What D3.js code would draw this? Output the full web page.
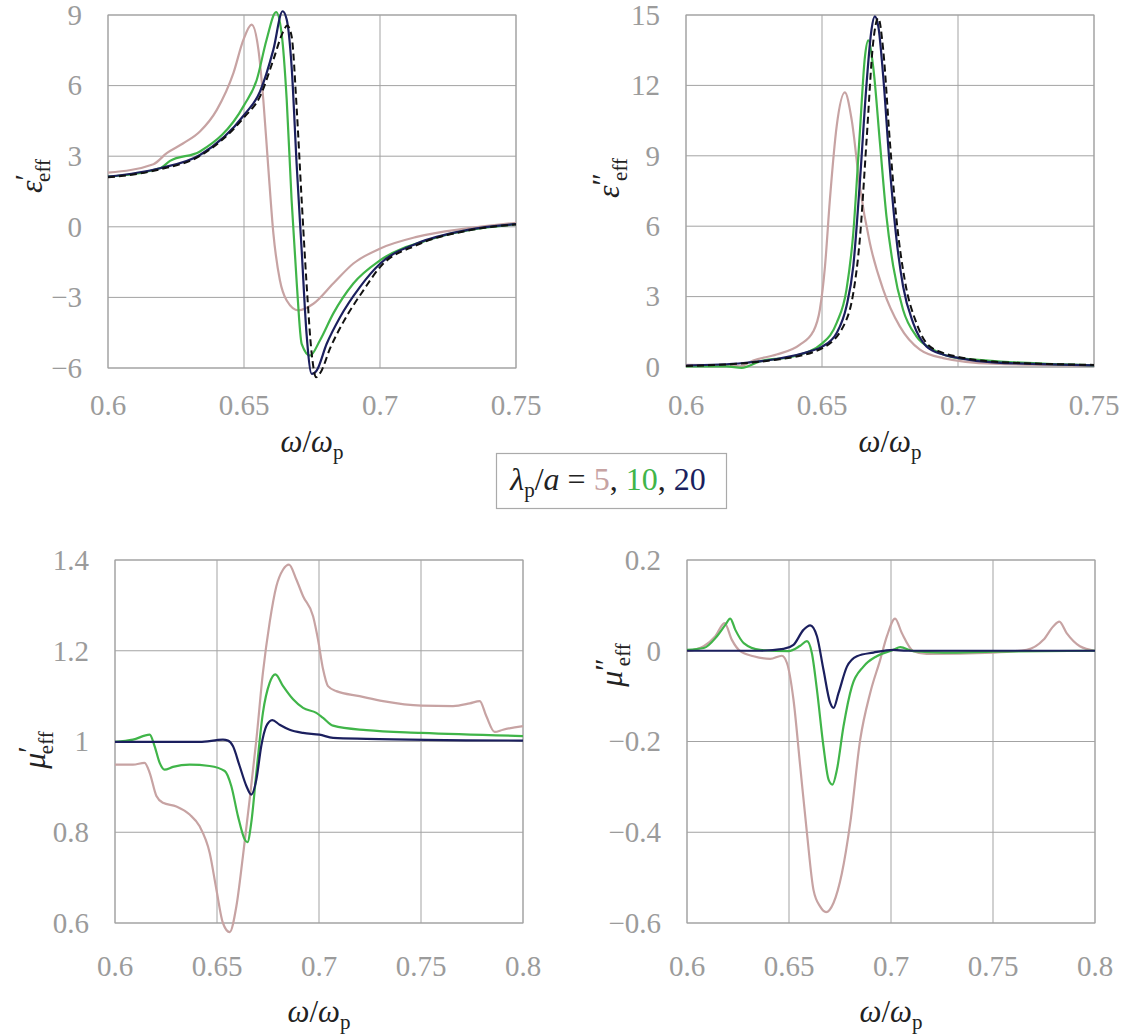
<!DOCTYPE html>
<html>
<head>
<meta charset="utf-8">
<script src="https://cdn.jsdelivr.net/npm/d3@7"></script>
<style>
  html, body { margin: 0; padding: 0; background: #fff; }
  svg { display: block; }
</style>
</head>
<body>
<svg id="chart" width="1131" height="1036"></svg>
<script>
// ---------------- DATA ----------------
const seriesNames = ["5", "10", "20", "theory"];
const seriesColors = { "5": "#c7a3a3", "10": "#40b549", "20": "#1b1f5e", "theory": "#111111" };

// epsilon' (real part of effective permittivity), x = omega/omega_p
const epsRe5 = [[0.6,2.30],[0.6167,2.66],[0.6216,3.13],[0.6277,3.55],[0.6338,4.05],[0.6400,4.97],[0.6461,6.53],[0.6498,7.95],[0.6528,8.59],[0.6553,7.53],[0.6571,5.40],[0.6589,2.56],[0.6608,-0.28],[0.6632,-2.27],[0.6657,-3.13],[0.6700,-3.55],[0.6755,-3.27],[0.6828,-2.41],[0.6902,-1.56],[0.7001,-0.92],[0.7135,-0.43],[0.7319,-0.07],[0.75,0.17]];
const epsRe10 = [[0.6,2.13],[0.6191,2.49],[0.6228,2.80],[0.6338,3.20],[0.6501,5.18],[0.6547,6.25],[0.6583,7.95],[0.6618,9.12],[0.6638,8.24],[0.6657,5.40],[0.6675,1.14],[0.6694,-2.41],[0.6712,-4.97],[0.6743,-5.47],[0.6779,-4.83],[0.6828,-3.69],[0.6902,-2.41],[0.7001,-1.42],[0.7196,-0.50],[0.75,0.11]];
const epsRe20 = [[0.6,2.13],[0.6191,2.49],[0.6338,3.05],[0.6501,4.76],[0.6559,5.75],[0.6608,7.53],[0.6642,9.16],[0.6657,8.81],[0.6675,6.82],[0.6694,2.56],[0.6712,-0.99],[0.6730,-4.55],[0.6749,-6.25],[0.6767,-6.11],[0.6804,-4.97],[0.6853,-3.84],[0.6926,-2.56],[0.7001,-1.56],[0.7135,-0.71],[0.7319,-0.14],[0.75,0.11]];
const epsReTh = [[0.6,2.10],[0.6191,2.44],[0.6338,3.01],[0.6501,4.66],[0.6559,5.54],[0.6608,7.10],[0.6642,8.24],[0.6659,8.55],[0.6675,8.10],[0.6694,4.97],[0.6712,1.14],[0.6730,-2.41],[0.6749,-5.40],[0.6765,-6.39],[0.6782,-6.18],[0.6816,-5.18],[0.6865,-4.05],[0.6939,-2.70],[0.7001,-1.70],[0.7135,-0.78],[0.7319,-0.17],[0.75,0.10]];

// epsilon'' (imaginary part)
const epsIm5 = [[0.6,0.09],[0.6149,0.07],[0.6198,0.03],[0.6247,0.28],[0.6333,0.53],[0.6419,0.95],[0.6468,1.52],[0.6492,2.44],[0.6511,4.29],[0.6529,7.13],[0.6554,10.26],[0.6584,11.70],[0.6609,10.54],[0.6639,7.70],[0.6676,5.28],[0.6725,3.30],[0.6786,1.73],[0.6860,0.74],[0.6945,0.38],[0.7129,0.14],[0.75,0.06]];
const epsIm10 = [[0.6,0.03],[0.6149,0.03],[0.6205,-0.04],[0.6272,0.24],[0.6394,0.45],[0.6502,1.02],[0.6554,1.88],[0.6590,3.30],[0.6615,5.71],[0.6639,9.97],[0.6658,13.24],[0.6670,13.92],[0.6688,12.81],[0.6713,9.55],[0.6737,6.42],[0.6762,4.29],[0.6798,2.44],[0.6847,1.31],[0.6909,0.74],[0.7002,0.38],[0.75,0.07]];
const epsIm20 = [[0.6,0.06],[0.6211,0.17],[0.6333,0.34],[0.6456,0.67],[0.6502,0.88],[0.6554,1.45],[0.6590,2.59],[0.6615,4.29],[0.6639,7.84],[0.6664,12.10],[0.6682,14.38],[0.6694,14.94],[0.6707,14.52],[0.6725,12.39],[0.6749,8.55],[0.6774,5.43],[0.6798,3.44],[0.6835,1.88],[0.6884,0.88],[0.6945,0.53],[0.7002,0.38],[0.7129,0.20],[0.75,0.07]];
const epsImTh = [[0.6,0.04],[0.6333,0.31],[0.6502,0.81],[0.6590,2.02],[0.6615,3.15],[0.6639,5.43],[0.6664,9.69],[0.6688,13.81],[0.6707,14.87],[0.6725,13.52],[0.6749,9.69],[0.6774,6.28],[0.6804,3.72],[0.6847,1.88],[0.6884,1.02],[0.6945,0.60],[0.7002,0.43],[0.7129,0.23],[0.75,0.09]];

// mu' (real part of effective permeability)
const muRe5 = [[0.6,0.949],[0.6088,0.949],[0.6145,0.953],[0.6170,0.931],[0.6203,0.880],[0.6235,0.865],[0.6301,0.857],[0.6366,0.839],[0.6415,0.813],[0.6464,0.755],[0.6497,0.674],[0.6529,0.600],[0.6562,0.580],[0.6595,0.637],[0.6627,0.747],[0.6660,0.872],[0.6693,1.004],[0.6725,1.151],[0.6758,1.262],[0.6791,1.342],[0.6824,1.379],[0.6853,1.390],[0.6889,1.357],[0.6922,1.320],[0.6971,1.276],[0.6995,1.225],[0.7020,1.159],[0.7044,1.122],[0.7085,1.111],[0.7199,1.100],[0.7314,1.089],[0.7502,1.079],[0.7657,1.078],[0.7739,1.084],[0.7788,1.089],[0.7820,1.056],[0.7861,1.021],[0.7902,1.026],[0.8,1.034]];
const muRe10 = [[0.6,0.999],[0.6088,1.004],[0.6170,1.015],[0.6194,0.990],[0.6219,0.953],[0.6243,0.938],[0.6284,0.944],[0.6366,0.949],[0.6464,0.946],[0.6538,0.935],[0.6570,0.902],[0.6603,0.835],[0.6636,0.784],[0.6649,0.778],[0.6668,0.821],[0.6693,0.931],[0.6725,1.063],[0.6758,1.129],[0.6786,1.148],[0.6824,1.122],[0.6873,1.093],[0.6922,1.074],[0.6987,1.063],[0.7020,1.052],[0.7069,1.035],[0.7232,1.025],[0.7502,1.019],[0.8,1.012]];
const muRe20 = [[0.6,0.999],[0.6415,0.999],[0.6529,1.004],[0.6554,1.002],[0.6578,0.990],[0.6611,0.946],[0.6644,0.902],[0.6668,0.883],[0.6693,0.916],[0.6717,0.990],[0.6742,1.034],[0.6771,1.047],[0.6807,1.037],[0.6856,1.026],[0.6922,1.019],[0.7003,1.015],[0.7069,1.008],[0.7232,1.006],[0.8,1.002]];

// mu'' (imaginary part)
const muIm5 = [[0.6,-0.001],[0.6082,0.010],[0.6139,0.032],[0.6184,0.061],[0.6220,0.024],[0.6261,-0.001],[0.6326,-0.012],[0.6408,-0.018],[0.6465,-0.011],[0.6490,-0.027],[0.6522,-0.108],[0.6555,-0.255],[0.6588,-0.402],[0.6620,-0.527],[0.6653,-0.564],[0.6682,-0.576],[0.6718,-0.556],[0.6759,-0.491],[0.6800,-0.380],[0.6849,-0.196],[0.6898,-0.093],[0.6947,-0.020],[0.6980,0.032],[0.7020,0.071],[0.7053,0.039],[0.7110,-0.001],[0.7175,-0.007],[0.7502,-0.004],[0.7665,0.002],[0.7747,0.024],[0.7796,0.054],[0.7825,0.064],[0.7861,0.039],[0.7926,0.010],[0.8,0.0]];
const muIm10 = [[0.6,0.002],[0.6082,0.006],[0.6147,0.032],[0.6188,0.057],[0.6212,0.071],[0.6237,0.046],[0.6278,0.017],[0.6359,0.002],[0.6498,-0.001],[0.6555,0.011],[0.6588,0.021],[0.6612,-0.005],[0.6637,-0.086],[0.6669,-0.211],[0.6694,-0.284],[0.6713,-0.295],[0.6735,-0.262],[0.6767,-0.167],[0.6808,-0.079],[0.6865,-0.035],[0.6930,-0.012],[0.7012,0.002],[0.7045,0.008],[0.7110,-0.001],[0.7257,-0.004],[0.7502,-0.002],[0.8,0.0]];
const muIm20 = [[0.6,0.0],[0.6359,0.0],[0.6473,0.004],[0.6522,0.013],[0.6571,0.046],[0.6604,0.056],[0.6637,0.032],[0.6669,-0.042],[0.6702,-0.115],[0.6718,-0.126],[0.6743,-0.093],[0.6784,-0.035],[0.6833,-0.012],[0.6914,-0.004],[0.7012,0.002],[0.7077,0.0],[0.8,0.0]];

// ticks
const xTicksEps = [0.6, 0.65, 0.7, 0.75];
const xTicksMu = [0.6, 0.65, 0.7, 0.75, 0.8];
const yTicksEpsRe = [-6, -3, 0, 3, 6, 9];
const yTicksEpsIm = [0, 3, 6, 9, 12, 15];
const yTicksMuRe = [0.6, 0.8, 1, 1.2, 1.4];
const yTicksMuIm = [-0.6, -0.4, -0.2, 0, 0.2];

// ---------------- DRAW ----------------
const FONT = "Liberation Serif";
const svg = d3.select("#chart").attr("font-family", FONT);
const tickColor = "#9b9b9b";
const gridColor = "#a3a3a3";
const fmt = v => String(+v.toFixed(3)).replace("-", "\u2212");

const panels = [
  { box: [108, 516, 15, 368], xd: [0.6, 0.75], yd: [-6, 9], xt: xTicksEps, yt: yTicksEpsRe,
    series: [["5", epsRe5], ["10", epsRe10], ["20", epsRe20], ["theory", epsReTh]],
    ylab: { x: 31, y: 176, sym: "\u03b5", prime: "\u2032" }, xlabY: 452, tickY: 415 },
  { box: [686, 1094, 15, 367], xd: [0.6, 0.75], yd: [0, 15], xt: xTicksEps, yt: yTicksEpsIm,
    series: [["5", epsIm5], ["10", epsIm10], ["20", epsIm20], ["theory", epsImTh]],
    ylab: { x: 608, y: 178, sym: "\u03b5", prime: "\u2033" }, xlabY: 452, tickY: 415 },
  { box: [115, 523, 560, 923], xd: [0.6, 0.8], yd: [0.6, 1.4], xt: xTicksMu, yt: yTicksMuRe,
    series: [["5", muRe5], ["10", muRe10], ["20", muRe20]],
    ylab: { x: 34, y: 750, sym: "\u03bc", prime: "\u2032" }, xlabY: 1022, tickY: 976 },
  { box: [687, 1095, 560, 923], xd: [0.6, 0.8], yd: [-0.6, 0.2], xt: xTicksMu, yt: yTicksMuIm,
    series: [["5", muIm5], ["10", muIm10], ["20", muIm20]],
    ylab: { x: 611, y: 665, sym: "\u03bc", prime: "\u2033" }, xlabY: 1022, tickY: 976 }
];

panels.forEach(p => {
  const [x0, x1, y0, y1] = p.box;
  const x = d3.scaleLinear().domain(p.xd).range([x0, x1]);
  const y = d3.scaleLinear().domain(p.yd).range([y1, y0]);
  const g = svg.append("g");

  // grid
  g.append("g").selectAll("line").data(p.xt).join("line")
    .attr("x1", d => x(d)).attr("x2", d => x(d)).attr("y1", y0).attr("y2", y1)
    .attr("stroke", gridColor).attr("stroke-width", 1);
  g.append("g").selectAll("line").data(p.yt).join("line")
    .attr("x1", x0).attr("x2", x1).attr("y1", d => y(d)).attr("y2", d => y(d))
    .attr("stroke", gridColor).attr("stroke-width", 1);
  g.append("rect").attr("x", x0).attr("y", y0).attr("width", x1 - x0).attr("height", y1 - y0)
    .attr("fill", "none").attr("stroke", gridColor).attr("stroke-width", 1);

  // tick labels
  g.append("g").selectAll("text").data(p.xt).join("text")
    .attr("x", d => x(d)).attr("y", p.tickY).attr("text-anchor", "middle")
    .attr("font-size", 29).attr("fill", tickColor).text(fmt);
  g.append("g").selectAll("text").data(p.yt).join("text")
    .attr("x", x0 - 26).attr("y", d => y(d)).attr("dy", "0.34em").attr("text-anchor", "end")
    .attr("font-size", 29).attr("fill", tickColor).text(fmt);

  // lines
  const line = d3.line().x(d => x(d[0])).y(d => y(d[1])).curve(d3.curveMonotoneX);
  p.series.forEach(([name, data]) => {
    g.append("path").datum(data).attr("d", line)
      .attr("fill", "none")
      .attr("stroke", seriesColors[name])
      .attr("stroke-width", name === "theory" ? 2 : 2.2)
      .attr("stroke-dasharray", name === "theory" ? "7,4" : null)
      .attr("stroke-linejoin", "round");
  });

  // x label
  const xl = g.append("text").attr("x", (x0 + x1) / 2).attr("y", p.xlabY)
    .attr("text-anchor", "middle").attr("font-size", 31).attr("fill", "#222");
  xl.append("tspan").attr("font-style", "italic").text("\u03c9");
  xl.append("tspan").text("/");
  xl.append("tspan").attr("font-style", "italic").text("\u03c9");
  xl.append("tspan").attr("font-size", 21).attr("dy", 7).text("p");

  // y label (rotated)
  const yl = g.append("text")
    .attr("transform", `translate(${p.ylab.x},${p.ylab.y}) rotate(-90)`)
    .attr("text-anchor", "middle").attr("dy", "0.35em").attr("font-size", 32).attr("fill", "#222");
  yl.append("tspan").attr("font-style", "italic").text(p.ylab.sym);
  yl.append("tspan").attr("dy", -7).attr("font-size", 30).text(p.ylab.prime);
  yl.append("tspan").attr("dx", -8).attr("dy", 15).attr("font-size", 21).text("eff");
});

// legend
const lg = svg.append("g");
lg.append("rect").attr("x", 496.5).attr("y", 453.5).attr("width", 230).attr("height", 55)
  .attr("fill", "#fff").attr("stroke", "#aaaaaa").attr("stroke-width", 1.2);
const lt = lg.append("text").attr("x", 608).attr("y", 490).attr("text-anchor", "middle")
  .attr("font-size", 32).attr("fill", "#222");
lt.append("tspan").attr("font-style", "italic").text("\u03bb");
lt.append("tspan").attr("font-size", 21).attr("dy", 7).text("p");
lt.append("tspan").attr("dy", -7).text("/");
lt.append("tspan").attr("font-style", "italic").text("a");
lt.append("tspan").text(" = ");
lt.append("tspan").attr("fill", seriesColors["5"]).text("5");
lt.append("tspan").text(", ");
lt.append("tspan").attr("fill", seriesColors["10"]).text("10");
lt.append("tspan").text(", ");
lt.append("tspan").attr("fill", seriesColors["20"]).text("20");
</script>
</body>
</html>
